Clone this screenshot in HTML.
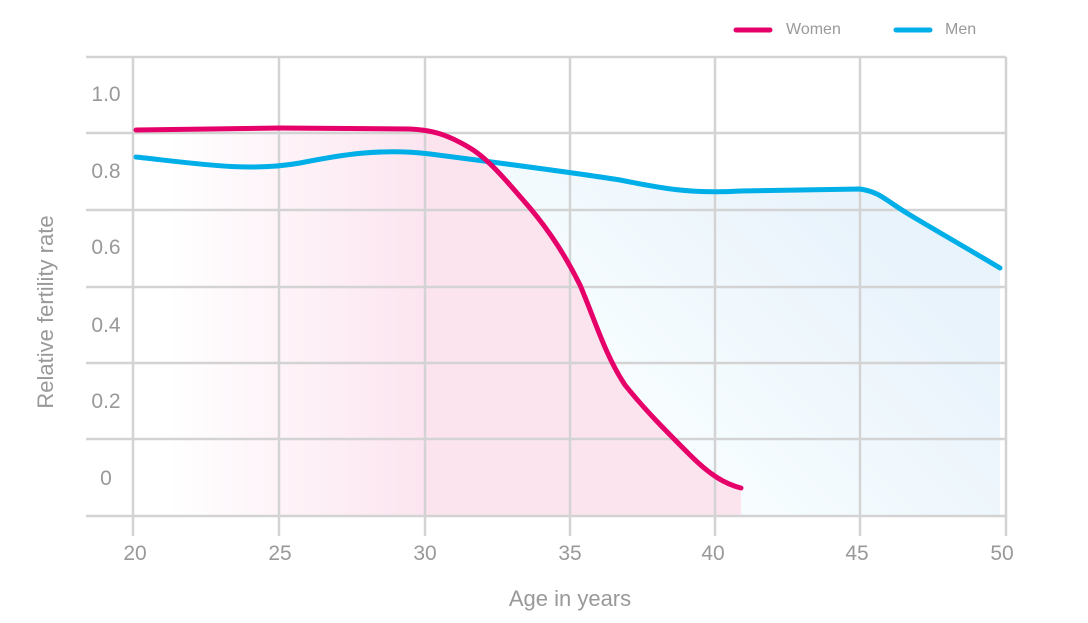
<!DOCTYPE html>
<html><head><meta charset="utf-8"><style>
html,body{margin:0;padding:0;background:#fff;}
svg{display:block;font-family:"Liberation Sans",sans-serif;}
</style></head><body>
<svg width="1088" height="623" viewBox="0 0 1088 623">
<defs>
<linearGradient id="pk" gradientUnits="userSpaceOnUse" x1="170" y1="0" x2="430" y2="0">
<stop offset="0" stop-color="#fce4ef" stop-opacity="0"/>
<stop offset="1" stop-color="#fce4ef"/>
</linearGradient>
<linearGradient id="bl" gradientUnits="userSpaceOnUse" x1="560" y1="330" x2="760" y2="130">
<stop offset="0" stop-color="#f7fdff"/>
<stop offset="1" stop-color="#e9f3fb"/>
</linearGradient>
<clipPath id="cr"><rect x="480" y="0" width="600" height="623"/></clipPath>
</defs>
<path clip-path="url(#cr)" d="M136,157 C200,164 250,172 300,163 C340,155 380,148 430,154 C500,163 570,172 620,180 C660,188 690,194 740,191 L860,189 C880,192 885,200 910,215 C940,233 970,250 1000,268 L1000,516 L136,516 Z" fill="url(#bl)"/>
<path d="M136,130 L280,128 L410,129 C430,130 445,133 470,148 C490,160 510,185 530,208 C550,232 565,255 580,285 C595,320 605,355 625,385 C645,410 665,430 690,455 C710,475 725,484 741,488 L741,516 L136,516 Z" fill="url(#pk)"/>
<g stroke="#d3d3d3" stroke-width="2.5" fill="none">
<line x1="86" y1="57" x2="1006" y2="57"/>
<line x1="86" y1="133" x2="1006" y2="133"/>
<line x1="86" y1="210" x2="1006" y2="210"/>
<line x1="86" y1="287" x2="1006" y2="287"/>
<line x1="86" y1="363" x2="1006" y2="363"/>
<line x1="86" y1="439" x2="1006" y2="439"/>
<line x1="86" y1="516" x2="1006" y2="516"/>
<line x1="133" y1="57" x2="133" y2="536"/>
<line x1="279" y1="57" x2="279" y2="536"/>
<line x1="425" y1="57" x2="425" y2="536"/>
<line x1="570" y1="57" x2="570" y2="536"/>
<line x1="715" y1="57" x2="715" y2="536"/>
<line x1="860" y1="57" x2="860" y2="536"/>
<line x1="1006" y1="57" x2="1006" y2="536"/>
</g>
<path d="M136,157 C200,164 250,172 300,163 C340,155 380,148 430,154 C500,163 570,172 620,180 C660,188 690,194 740,191 L860,189 C880,192 885,200 910,215 C940,233 970,250 1000,268" fill="none" stroke="#00aee8" stroke-width="5" stroke-linecap="round"/>
<path d="M136,130 L280,128 L410,129 C430,130 445,133 470,148 C490,160 510,185 530,208 C550,232 565,255 580,285 C595,320 605,355 625,385 C645,410 665,430 690,455 C710,475 725,484 741,488" fill="none" stroke="#e5006a" stroke-width="5" stroke-linecap="round"/>
<g fill="#999" font-size="21" text-anchor="middle">
<text x="106" y="101">1.0</text>
<text x="106" y="178">0.8</text>
<text x="106" y="254">0.6</text>
<text x="106" y="332">0.4</text>
<text x="106" y="408">0.2</text>
<text x="106" y="485">0</text>
<text x="135" y="560">20</text>
<text x="280" y="560">25</text>
<text x="425" y="560">30</text>
<text x="570" y="560">35</text>
<text x="713" y="560">40</text>
<text x="857" y="560">45</text>
<text x="1002" y="560">50</text>
<text x="570" y="606" font-size="22">Age in years</text>
<text transform="translate(53,312) rotate(-90)" font-size="22">Relative fertility rate</text>
</g>
<line x1="736" y1="30" x2="770" y2="30" stroke="#e5006a" stroke-width="5" stroke-linecap="round"/>
<text x="786" y="34" fill="#999" font-size="16">Women</text>
<line x1="896" y1="30" x2="930" y2="30" stroke="#00aee8" stroke-width="5" stroke-linecap="round"/>
<text x="945" y="34" fill="#999" font-size="16">Men</text>
</svg>
</body></html>
